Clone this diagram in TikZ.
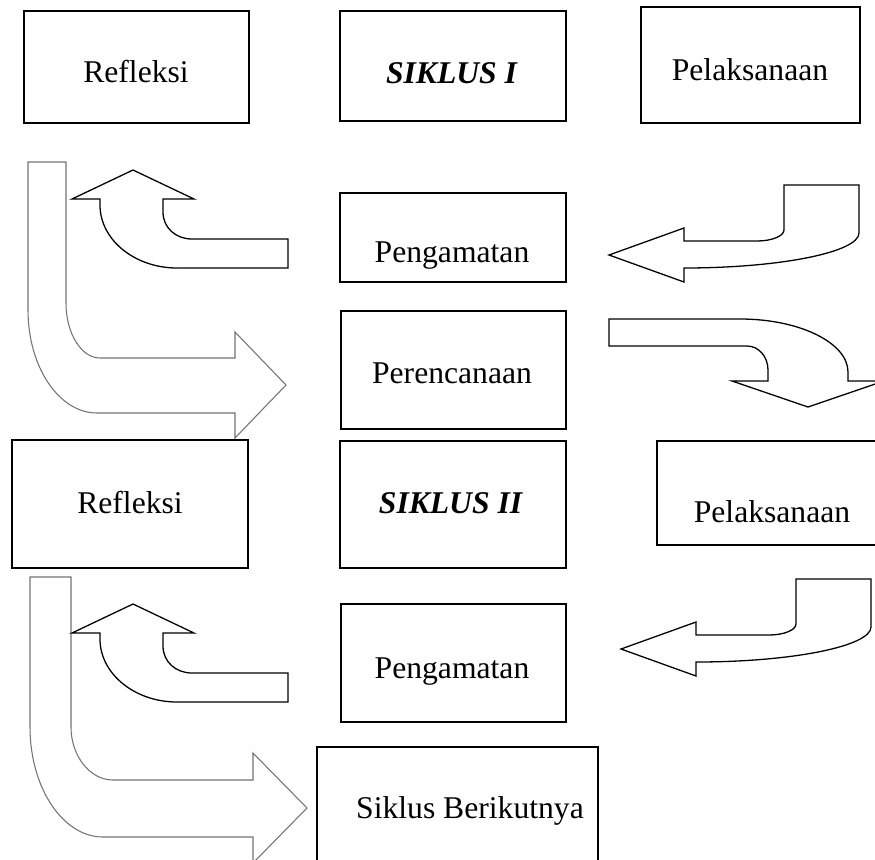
\documentclass[tikz,border=0pt]{standalone}
\usepackage{fontspec}
\setmainfont{Liberation Serif}
\usepackage{tikz}
\tikzset{
	kotak/.style={line width=1.6pt},
	teks/.style={anchor=base, inner sep=0pt, font=\fontsize{27}{32}\selectfont},
	panah/.style={line width=1.1pt, fill=white},
	panahabu/.style={line width=0.9pt, draw=black!55, fill=white}
}

\begin{document}
\begin{tikzpicture}[x=0.03cm, y=-0.03cm]
			\useasboundingbox (0,0) rectangle (875,859);
			
			%%%%% SIKLUS I %%%%%
			
			\draw[kotak] (24, 11) rectangle (249, 123);
			\node[teks] (refleksiA) at (136, 82) {Refleksi};
			
			\draw[kotak] (340, 11) rectangle (566, 121);
			\node[teks] (siklusA) at (452, 83) {\textbf{\textit{SIKLUS I}}};
			
			\draw[kotak] (641, 7) rectangle (860, 123);
			\node[teks] (pelaksanaanA) at (750, 80) {Pelaksanaan};
			
			\draw[kotak] (340, 193) rectangle (566, 282);
			\node[teks] (pengamatanA) at (452, 262) {Pengamatan};
			
			\draw[kotak] (341, 311) rectangle (566, 429);
			\node[teks] (perencanaan) at (452, 383) {Perencanaan};
			
			\draw[panahabu] (28, 162) -- (66, 162) -- (66, 303) .. controls (66, 333) and (81, 358) .. (100, 358) -- (235, 358) -- (235, 332) -- (286, 385) -- (235, 438) -- (235, 413) -- (97, 413) .. controls (59, 413) and (28, 367) .. (28, 310) -- cycle;
			
			\draw[panah] (133, 170) -- (194, 199) -- (163, 199) -- (163, 212) .. controls (163, 228) and (176, 239) .. (192, 239) -- (288, 239) -- (288, 268) -- (177, 268) .. controls (135, 268) and (100, 240) .. (100, 205) -- (100, 199) -- (72, 199) -- cycle;
			
			\draw[panah] (784, 185) -- (859, 185) -- (859, 233) .. controls (859, 252) and (781, 268) .. (684, 268) -- (684, 282) -- (609, 255) -- (684, 228) -- (684, 241) -- (757, 241) .. controls (772, 241) and (784, 236) .. (784, 230) -- cycle;
			
			\draw[panah] (609, 319) -- (740, 319) .. controls (800, 319) and (848, 343) .. (848, 372) -- (848, 381) -- (884, 381) -- (808, 407) -- (732, 381) -- (768, 381) -- (768, 370) .. controls (768, 357) and (759, 346) .. (747, 346) -- (609, 346) -- cycle;
			
			%%%%% SIKLUS II %%%%%
			
			\draw[kotak] (12, 440) rectangle (248, 568);
			\node[teks] (refleksiB) at (130, 513) {Refleksi};
			
			\draw[kotak] (340, 441) rectangle (566, 568);
			\node[teks] (siklusB) at (451, 513) {\textbf{\textit{SIKLUS II}}};
			
			\draw[kotak] (657, 441) rectangle (890, 545);
			\node[teks] (pelaksanaanB) at (772, 522) {Pelaksanaan};
			
			\draw[kotak] (341, 604) rectangle (566, 722);
			\node[teks] (pengamatanB) at (452, 678) {Pengamatan};
			
			\draw[kotak] (317, 747) rectangle (598, 875);
			\node[teks] (berikutnya) at (470, 818) {Siklus Berikutnya};
			
			\draw[panahabu] (30, 577) -- (71, 577) -- (71, 727) .. controls (71, 756) and (90, 780) .. (113, 780) -- (253, 780) -- (253, 753) -- (307, 808) -- (253, 863) -- (253, 837) -- (103, 837) .. controls (63, 837) and (30, 788) .. (30, 727) -- cycle;
			
			\draw[panah] (133, 604) -- (194, 633) -- (163, 633) -- (163, 646) .. controls (163, 662) and (176, 673) .. (192, 673) -- (288, 673) -- (288, 702) -- (177, 702) .. controls (135, 702) and (100, 674) .. (100, 639) -- (100, 633) -- (72, 633) -- cycle;
			
			\draw[panah] (796, 579) -- (871, 579) -- (871, 627) .. controls (871, 646) and (793, 662) .. (696, 662) -- (696, 676) -- (621, 649) -- (696, 622) -- (696, 635) -- (769, 635) .. controls (784, 635) and (796, 630) .. (796, 624) -- cycle;
			
			%%%%% END %%%%%
\end{tikzpicture}
\end{document}
